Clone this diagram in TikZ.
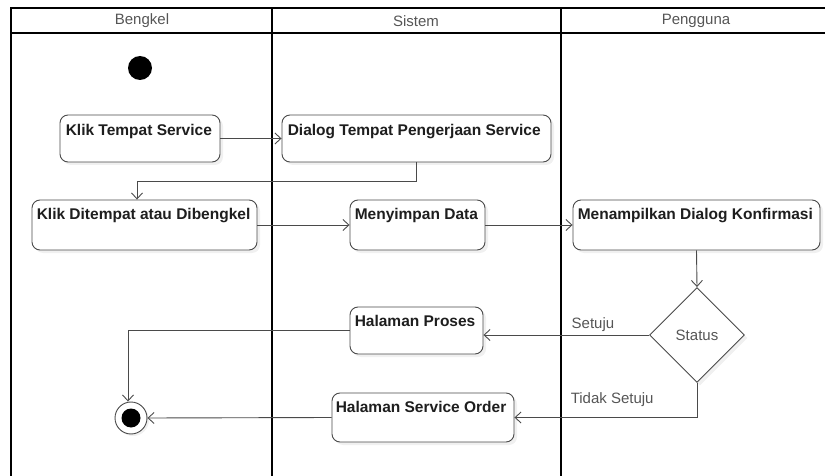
\documentclass[tikz,border=0pt]{standalone}
\usepackage{fontspec}
\setmainfont{Liberation Sans}
\usetikzlibrary{shapes.geometric,arrows.meta,shadows}
\definecolor{lineclr}{HTML}{4A4A4A}
\definecolor{txtclr}{HTML}{1E1E1E}
\definecolor{hdrclr}{HTML}{555555}
\tikzset{
  lane/.style={line width=1.6pt, black},
  hdr/.style={text=hdrclr, font=\fontsize{15}{18}\selectfont},
  act/.style={draw=lineclr, line width=0.9pt, rounded corners=8pt, fill=white,
    inner sep=0pt, drop shadow={shadow xshift=3pt, shadow yshift=-3pt, opacity=0.12}},
  acttext/.style={anchor=north west, inner sep=0pt, text=txtclr,
    font=\fontsize{15.5}{18}\selectfont\bfseries},
  flow/.style={draw=lineclr, line width=0.9pt, -{Straight Barb[length=6pt,width=11pt]}},
  decision/.style={diamond, draw=lineclr, line width=0.9pt, fill=white, aspect=1,
    inner sep=0pt, minimum width=95pt, minimum height=95pt,
    drop shadow={shadow xshift=3pt, shadow yshift=-3pt, opacity=0.12},
    text=hdrclr, font=\fontsize{15}{18}\selectfont},
  guard/.style={text=hdrclr, font=\fontsize{15}{18}\selectfont, inner sep=0pt, anchor=south west},
}
\begin{document}
\begin{tikzpicture}[x=1pt, y=-1pt]
\useasboundingbox (0,0) rectangle (825,476);

% swimlane frame
\draw[lane] (825,8) -- (11,8) -- (11,476);
\draw[lane] (11,33) -- (825,33);
\draw[lane, line width=1.3pt] (272,8) -- (272,476);
\draw[lane, line width=1.3pt] (561,8) -- (561,476);
\node[hdr] (hBengkel) at (142,21) {Bengkel};
\node[hdr] (hSistem) at (416,21) {Sistem};
\node[hdr] (hPengguna) at (696,21) {Pengguna};

% start and end
\node[circle, fill=black, minimum size=24pt, inner sep=0pt] (start) at (140,68) {};
\node[circle, draw=lineclr, line width=0.9pt, fill=white, minimum size=32pt, inner sep=0pt,
  drop shadow={shadow xshift=2pt, shadow yshift=-2pt, opacity=0.12}] (finish) at (131,418) {};
\node[circle, fill=black, minimum size=19pt, inner sep=0pt] (finishdot) at (finish) {};

% activities
\node[act, minimum width=160pt, minimum height=47pt,
  label={[acttext, xshift=6pt, yshift=-10pt]north west:Klik Tempat Service}] (klik) at (140,138.5) {};
\node[act, minimum width=269pt, minimum height=47pt,
  label={[acttext, xshift=6pt, yshift=-10pt]north west:Dialog Tempat Pengerjaan Service}] (dialog) at (416.5,138.5) {};
\node[act, minimum width=225pt, minimum height=50pt,
  label={[acttext, xshift=5pt, yshift=-9pt]north west:Klik Ditempat atau Dibengkel}] (pilih) at (144.5,225) {};
\node[act, minimum width=135pt, minimum height=50pt,
  label={[acttext, xshift=5pt, yshift=-9pt]north west:Menyimpan Data}] (simpan) at (417.5,225) {};
\node[act, minimum width=247pt, minimum height=50pt,
  label={[acttext, xshift=5pt, yshift=-9pt]north west:Menampilkan Dialog Konfirmasi}] (konfirmasi) at (696.5,225) {};
\node[act, minimum width=133pt, minimum height=47pt,
  label={[acttext, xshift=5pt, yshift=-9pt]north west:Halaman Proses}] (proses) at (416.5,330.5) {};
\node[act, minimum width=182pt, minimum height=49pt,
  label={[acttext, xshift=4pt, yshift=-9pt]north west:Halaman Service Order}] (order) at (423,417.5) {};

% decision
\node[decision] (status) at (697,335) {Status};

% flows
\draw[flow] (klik.east) -- (dialog.west);
\draw[flow] (dialog.south) -- ++(0,19) -| ([xshift=-7.5pt]pilih.north);
\draw[flow] (pilih.east) -- (simpan.west);
\draw[flow] (simpan.east) -- (konfirmasi.west);
\draw[flow] (konfirmasi.south) -- (status.north);
\draw[flow] (status.west) -- (status.west -| proses.east)
  node[guard, pos=0.47, yshift=3pt] (gSetuju) {Setuju};
\draw[flow] (status.south) |- (order.east)
  node[guard, pos=0.847, yshift=10pt] (gTidak) {Tidak Setuju};
\draw[flow] (proses.west) -| ([xshift=-3pt]finish.north);
\draw[flow] (order.west) -- (finish.east);
\end{tikzpicture}
\end{document}
